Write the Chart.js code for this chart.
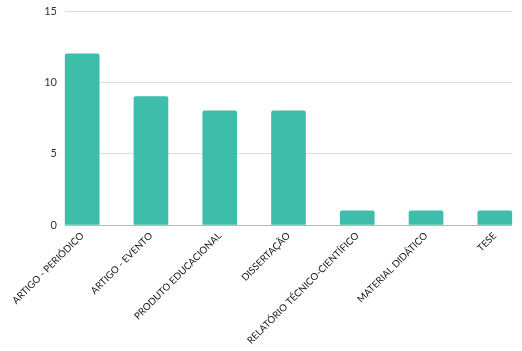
<!DOCTYPE html>
<html>
<head>
<meta charset="utf-8">
<script src="https://cdn.jsdelivr.net/npm/chart.js@4"></script>
<style>
html, body { margin: 0; padding: 0; background: #fff; }
#wrap { width: 522px; height: 351px; }
</style>
</head>
<body>
<div id="wrap"><canvas id="myBarChart"></canvas></div>
<script>
const labels = [
	'ARTIGO - PERIÓDICO',
	'ARTIGO - EVENTO',
	'PRODUTO EDUCACIONAL',
	'DISSERTAÇÃO',
	'RELATÓRIO TÉCNICO-CIENTÍFICO',
	'MATERIAL DIDÁTICO',
	'TESE',
];

const values = [12, 9, 8, 8, 1, 1, 1];

const yTicks = [0, 5, 10, 15];

const data = {
	datasets: [{
		label: 'Produções',
		backgroundColor: '#3dbdaa',
		borderRadius: 2,
		borderSkipped: 'bottom',
		barThickness: 34,
		clip: false,
		data: values.map((v, i) => ({x: i, y: v})),
	}]
};

const barConfig = {
	type: 'bar',
	data: data,
	options: {
		responsive: true,
		maintainAspectRatio: false,
		animation: false,
		layout: {
			padding: {top: 0, right: 10, bottom: 0, left: 0},
		},
		plugins: {
			legend: {display: false},
			tooltip: {enabled: false},
		},
		scales: {
			x: {
				type: 'linear',
				min: -0.25,
				max: 6.25,
				offset: false,
				grid: {display: false, drawTicks: false},
				border: {display: false},
				afterBuildTicks: (scale) => {
					scale.ticks = labels.map((l, i) => ({value: i}));
				},
				afterFit: (scale) => {
					scale.height = 126;
				},
				ticks: {
					autoSkip: false,
					minRotation: 45,
					maxRotation: 45,
					padding: 5,
					color: '#111',
					font: {family: 'Lato', size: 9.7},
					callback: (v) => labels[v],
				},
			},
			y: {
				min: 0,
				max: 15,
				afterBuildTicks: (scale) => {
					scale.ticks = yTicks.map((v) => ({value: v}));
				},
				afterFit: (scale) => {
					scale.width = 65;
					scale.paddingTop = 11;
				},
				grid: {
					color: (ctx) => ctx.tick && ctx.tick.value === 0 ? '#b8b8b8' : '#dcdcdc',
					drawTicks: false,
					lineWidth: 1,
				},
				border: {display: false},
				ticks: {
					padding: 8,
					color: '#333',
					font: {family: 'Lato', size: 11},
				},
			},
		},
	},
};

const myBarChart = new Chart(
	document.getElementById('myBarChart'),
	barConfig
);
</script>
</body>
</html>
